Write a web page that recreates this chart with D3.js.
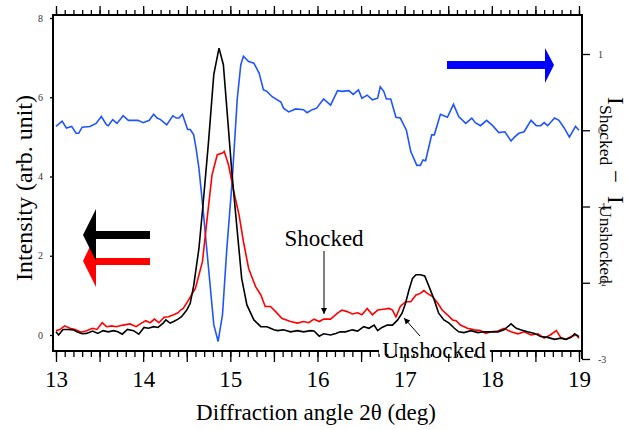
<!DOCTYPE html>
<html>
<head>
<meta charset="utf-8">
<script src="https://cdn.jsdelivr.net/npm/d3@7"></script>
<style>
  body { margin: 0; background: #fff; }
  svg text { font-family: "Liberation Serif", "Times New Roman", serif; }
</style>
</head>
<body>
<div id="chart"></div>
<script>
// DATA

const blackAngle = [13.00,13.03,13.08,13.14,13.20,13.24,13.30,13.35,13.42,13.48,13.54,13.60,13.66,13.71,13.76,13.82,13.89,13.95,14.01,14.06,14.12,14.17,14.23,14.26,14.31,14.35,14.40,14.44,14.50,14.54,14.58,14.64,14.69,14.75,14.81,14.87,14.92,14.96,15.02,15.08,15.13,15.19,15.27,15.35,15.42,15.46,15.50,15.54,15.61,15.69,15.77,15.84,15.92,15.96,16.02,16.07,16.15,16.21,16.26,16.32,16.40,16.46,16.53,16.59,16.65,16.69,16.74,16.80,16.86,16.92,16.97,17.01,17.05,17.09,17.13,17.18,17.23,17.28,17.34,17.39,17.45,17.51,17.57,17.62,17.68,17.76,17.84,17.91,17.99,18.07,18.14,18.22,18.28,18.33,18.41,18.49,18.56,18.64,18.72,18.79,18.85,18.91,18.95,19.00]
const unshocked = [0.08,0.00,0.14,0.14,0.13,0.08,0.03,0.04,0.10,0.04,0.11,0.08,0.11,0.08,0.02,0.14,0.11,0.02,0.19,0.17,0.21,0.19,0.30,0.38,0.30,0.34,0.40,0.46,0.63,0.80,1.25,2.19,3.37,4.88,6.57,7.24,6.82,5.72,4.04,2.61,1.43,0.76,0.38,0.21,0.21,0.17,0.13,0.11,0.13,0.08,0.11,0.08,0.11,0.10,-0.03,0.03,0.00,0.04,0.08,0.08,0.13,0.10,0.21,0.17,0.25,0.11,0.19,0.25,0.25,0.38,0.55,0.80,1.14,1.43,1.52,1.52,1.49,1.22,0.88,0.55,0.38,0.30,0.17,0.08,0.06,0.11,0.06,0.08,0.08,0.08,0.13,0.28,0.17,0.13,0.08,0.04,-0.04,-0.06,-0.11,-0.08,-0.11,-0.06,0.03,-0.04]

const redAngle = [13.00,13.04,13.10,13.16,13.22,13.29,13.35,13.42,13.47,13.53,13.58,13.64,13.69,13.77,13.85,13.92,13.98,14.03,14.08,14.13,14.18,14.24,14.29,14.35,14.40,14.43,14.46,14.52,14.60,14.68,14.73,14.79,14.85,14.91,14.93,14.98,15.04,15.10,15.15,15.21,15.29,15.35,15.40,15.46,15.52,15.59,15.69,15.77,15.84,15.90,15.96,16.02,16.07,16.15,16.23,16.28,16.34,16.40,16.46,16.51,16.57,16.63,16.69,16.76,16.82,16.86,16.90,16.95,17.01,17.07,17.13,17.18,17.22,17.26,17.32,17.38,17.43,17.49,17.55,17.59,17.64,17.72,17.80,17.87,17.93,17.99,18.07,18.14,18.22,18.30,18.37,18.45,18.53,18.60,18.67,18.74,18.79,18.85,18.91,18.97,19.00]
const shocked = [0.11,0.13,0.23,0.17,0.14,0.07,0.11,0.17,0.14,0.31,0.21,0.23,0.21,0.25,0.28,0.21,0.30,0.36,0.31,0.40,0.31,0.45,0.46,0.51,0.56,0.63,0.67,0.88,1.18,1.85,2.86,4.04,4.55,4.59,4.63,4.29,3.62,3.03,2.36,1.68,1.22,1.01,0.72,0.72,0.59,0.42,0.34,0.30,0.34,0.31,0.40,0.34,0.40,0.40,0.55,0.63,0.59,0.53,0.56,0.51,0.67,0.51,0.63,0.65,0.67,0.63,0.46,0.72,0.84,0.84,1.01,1.05,1.12,1.05,0.97,0.80,0.63,0.51,0.38,0.36,0.25,0.17,0.13,0.11,0.04,0.08,0.10,0.17,0.08,0.03,0.08,0.00,0.03,-0.08,0.00,0.11,-0.06,-0.11,-0.04,0.00,-0.08]

const blueAngle = [13.00,13.07,13.12,13.18,13.23,13.26,13.30,13.39,13.46,13.52,13.58,13.60,13.65,13.70,13.77,13.83,13.94,14.00,14.07,14.12,14.16,14.20,14.27,14.34,14.38,14.41,14.45,14.51,14.54,14.58,14.61,14.64,14.69,14.75,14.81,14.86,14.91,14.96,15.02,15.08,15.12,15.15,15.21,15.27,15.33,15.38,15.42,15.48,15.58,15.61,15.67,15.75,15.84,15.88,15.94,15.99,16.07,16.15,16.23,16.28,16.36,16.41,16.47,16.51,16.57,16.63,16.69,16.72,16.76,16.79,16.84,16.90,16.95,17.02,17.07,17.14,17.18,17.21,17.24,17.31,17.34,17.41,17.49,17.56,17.62,17.70,17.77,17.81,17.87,17.94,18.01,18.08,18.15,18.22,18.26,18.31,18.37,18.45,18.51,18.56,18.60,18.64,18.72,18.77,18.83,18.89,18.96,19.00]
const difference = [0.05,0.12,0.03,0.05,-0.04,-0.04,0.04,0.05,0.09,0.18,0.07,0.06,0.14,0.09,0.19,0.13,0.13,0.10,0.13,0.21,0.16,0.14,0.07,0.19,0.16,0.16,0.21,0.01,0.01,-0.06,-0.26,-0.50,-1.07,-1.81,-2.55,-2.77,-2.42,-1.55,-0.68,0.42,0.86,0.97,0.90,0.88,0.75,0.53,0.51,0.44,0.37,0.29,0.24,0.28,0.27,0.23,0.27,0.29,0.41,0.33,0.52,0.51,0.52,0.47,0.53,0.42,0.46,0.40,0.42,0.57,0.51,0.41,0.41,0.17,0.16,0.00,-0.28,-0.46,-0.46,-0.39,-0.40,-0.06,-0.06,0.21,0.17,0.34,0.18,0.09,0.16,0.10,0.06,0.13,0.06,-0.03,-0.02,-0.14,-0.09,-0.04,-0.02,0.13,0.06,0.06,0.10,0.06,0.16,0.13,0.03,-0.09,0.05,0.00]

const xTicks = [13, 14, 15, 16, 17, 18, 19]
const leftTicks = [0, 2, 4, 6, 8]
const rightTicks = [1, 0, -1, -2, -3]

// SIZES

const width = 635
const height = 430
const margin = { left: 53, top: 15, right: 53, bottom: 79 }
const w = width - margin.left - margin.right
const h = height - margin.top - margin.bottom
const serif = '"Liberation Serif", "Times New Roman", serif'

const svg = d3.select("#chart").append("svg").attr("width", width).attr("height", height)
const g = svg.append("g").attr("transform", `translate(${margin.left}, ${margin.top})`)

// SCALES

const x = d3.scaleLinear().domain([13, 19]).range([3, 526])
const yL = d3.scaleLinear().domain([0, 8]).range([320, 3])
const yR = d3.scaleLinear().domain([-3, 1]).range([344, 39])

// CURVES

const lineL = d3.line().x(d => x(d[0])).y(d => yL(d[1]))
const lineR = d3.line().x(d => x(d[0])).y(d => yR(d[1]))

g.append("path").datum(d3.zip(blueAngle, difference))
  .attr("d", lineR).attr("fill", "none").attr("stroke", "#1f55ff").attr("stroke-width", 1.6)
g.append("path").datum(d3.zip(redAngle, shocked))
  .attr("d", lineL).attr("fill", "none").attr("stroke", "#ff0000").attr("stroke-width", 1.6)
g.append("path").datum(d3.zip(blackAngle, unshocked))
  .attr("d", lineL).attr("fill", "none").attr("stroke", "#000").attr("stroke-width", 1.6)

// AXES

const minor = d3.range(130, 191).map(d => d / 10)
const half = d3.range(26, 39).map(d => d / 2)

const styleTicks = sel => {
  sel.attr("font-family", serif)
  sel.select(".domain").remove()
  sel.selectAll(".tick line").attr("stroke", "#000").attr("stroke-width", 1.3)
}

g.append("g").attr("transform", `translate(0, ${h})`)
  .call(d3.axisBottom(x).tickValues(minor).tickSize(6).tickFormat(""))
  .call(styleTicks)
g.append("g").attr("transform", `translate(0, ${h})`)
  .call(d3.axisBottom(x).tickValues(half).tickSize(11).tickPadding(9)
    .tickFormat(d => xTicks.includes(d) ? d : ""))
  .call(styleTicks)
  .selectAll("text").attr("font-size", 23).attr("fill", "#000").attr("font-family", serif)

g.append("g").call(d3.axisTop(x).tickValues(minor).tickSize(5).tickFormat("")).call(styleTicks)
g.append("g").call(d3.axisTop(x).tickValues(half).tickSize(9).tickFormat("")).call(styleTicks)

g.append("g")
  .call(d3.axisLeft(yL).tickValues(leftTicks).tickSize(3).tickPadding(7))
  .call(styleTicks)
  .selectAll("text").attr("font-size", 10).attr("fill", "#333").attr("font-family", serif)

g.append("g").attr("transform", `translate(${w}, 0)`)
  .call(d3.axisRight(yR).tickValues(rightTicks).tickSize(8).tickPadding(8).tickFormat(d => String(d)))
  .call(styleTicks)
  .selectAll("text").attr("font-size", 10).attr("fill", "#333").attr("font-family", serif)

// frame + long right axis line
g.append("rect").attr("x", 0).attr("y", 0).attr("width", w).attr("height", h)
  .attr("fill", "none").attr("stroke", "#000").attr("stroke-width", 2)
g.append("line").attr("x1", w).attr("x2", w).attr("y1", 0).attr("y2", yR(-3))
  .attr("stroke", "#000").attr("stroke-width", 2)

// TITLES

svg.append("text").attr("x", 316).attr("y", 420).attr("text-anchor", "middle")
  .attr("font-size", 23).text("Diffraction angle 2θ (deg)")

svg.append("text").attr("transform", "translate(32, 188) rotate(-90)").attr("text-anchor", "middle")
  .attr("font-size", 24).text("Intensity (arb. unit)")

const rLab = svg.append("text").attr("transform", "translate(608, 0) rotate(90)").attr("font-size", 23)
rLab.append("tspan").attr("x", 97).attr("y", 0).text("I")
rLab.append("tspan").attr("x", 105).attr("y", 8).attr("font-size", 17.5).text("Shocked")
rLab.append("tspan").attr("x", 170).attr("y", 0).text("−")
rLab.append("tspan").attr("x", 196).attr("y", 0).text("I")
rLab.append("tspan").attr("x", 205).attr("y", 8).attr("font-size", 17.5).text("Unshocked")

// BIG ARROWS

svg.append("path").attr("fill", "#ff0000")
  .attr("d", "M83,261 L96,234 L96,258 L150,258 L150,265 L96,265 L96,287 Z")
svg.append("path").attr("fill", "#000")
  .attr("d", "M83,235 L96,209 L96,231 L150,231 L150,239 L96,239 L96,261 Z")
svg.append("path").attr("fill", "#0000ff")
  .attr("d", "M447,61 L545,61 L545,48 L554,65 L545,83 L545,69 L447,69 Z")

// ANNOTATIONS

svg.append("defs").append("marker").attr("id", "tip")
  .attr("viewBox", "0 0 10 10").attr("refX", 10).attr("refY", 5)
  .attr("markerWidth", 9).attr("markerHeight", 6).attr("markerUnits", "userSpaceOnUse")
  .attr("orient", "auto")
  .append("path").attr("d", "M0,0 L10,5 L0,10 Z").attr("fill", "#000")

svg.append("text").attr("x", 324).attr("y", 246).attr("text-anchor", "middle")
  .attr("font-size", 23).text("Shocked")
svg.append("line").attr("x1", 324).attr("y1", 251).attr("x2", 324).attr("y2", 314)
  .attr("stroke", "#000").attr("stroke-width", 1).attr("marker-end", "url(#tip)")

svg.append("rect").attr("x", 379).attr("y", 337).attr("width", 111).attr("height", 17).attr("fill", "#fff")
svg.append("text").attr("x", 434).attr("y", 358).attr("text-anchor", "middle")
  .attr("font-size", 23).text("Unshocked")
svg.append("line").attr("x1", 420).attr("y1", 336).attr("x2", 404).attr("y2", 318)
  .attr("stroke", "#000").attr("stroke-width", 1).attr("marker-end", "url(#tip)")
</script>
</body>
</html>
